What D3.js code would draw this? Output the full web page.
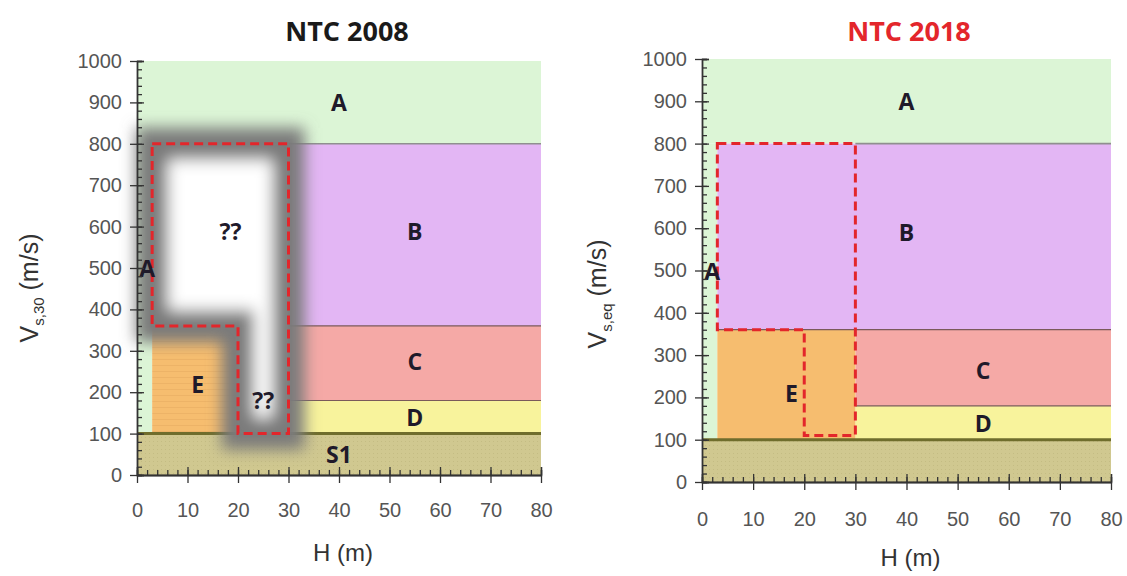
<!DOCTYPE html>
<html>
<head>
<meta charset="utf-8">
<script src="https://cdn.jsdelivr.net/npm/d3@7"></script>
<style>
  html, body { margin: 0; padding: 0; background: #ffffff; }
  svg { display: block; }
</style>
</head>
<body>
<svg id="chart" width="1127" height="576"></svg>
<script>
// ---- data -------------------------------------------------------------
const panelTitles = ["NTC 2008", "NTC 2018"];
const yAxisSubscripts = ["s,30", "s,eq"];
const xTickValues = [0, 10, 20, 30, 40, 50, 60, 70, 80];
const yTickValues = [0, 100, 200, 300, 400, 500, 600, 700, 800, 900, 1000];
const hDomain = [0, 80];      // H (m)
const vDomain = [0, 1000];    // Vs (m/s)

// soil classes as rectangles in data units: [class, H0, H1, V0, V1]
const zones2008 = [
  ["A", 0, 80, 800, 1000],
  ["A", 0, 3, 100, 800],
  ["B", 30, 80, 360, 800],
  ["C", 30, 80, 180, 360],
  ["D", 30, 80, 100, 180],
  ["E", 3, 20, 100, 360],
  ["S1", 0, 80, 0, 100]
];
const zones2018 = [
  ["A", 0, 80, 800, 1000],
  ["A", 0, 3, 100, 800],
  ["B", 3, 80, 360, 800],
  ["C", 30, 80, 180, 360],
  ["D", 30, 80, 100, 180],
  ["E", 3, 30, 100, 360],
  ["S1", 0, 80, 0, 100]
];

// class boundaries: [H0, H1, V]
const bounds2008 = [[30, 80, 800], [30, 80, 360], [30, 80, 180]];
const bounds2018 = [[30, 80, 800], [3, 80, 360], [30, 80, 180]];
const bedrockLine = [0, 80, 100];

// dashed outline of the uncovered / reassigned area
const outline2008 = [[3, 800], [30, 800], [30, 100], [20, 100], [20, 360], [3, 360]];
const outline2018 = [[3, 800], [30, 800], [30, 110], [20, 110], [20, 360], [3, 360]];

// text labels: [text, H, V]
const labels2008 = [["A", 40, 900], ["B", 55, 590], ["C", 55, 275], ["D", 55, 140],
                    ["S1", 40, 50], ["E", 12, 220], ["??", 18.5, 590], ["??", 25, 180], ["A", 2, 500]];
const labels2018 = [["A", 40, 900], ["B", 40, 590], ["C", 55, 265], ["D", 55, 140],
                    ["E", 17.5, 210], ["A", 2, 500]];

const zoneColors = { A: "#dcf5d6", B: "#e3b6f4", C: "#f5a9a6", D: "#f8f39c", E: "#f6bd6f", S1: "#d0c890" };

// ---- layout -----------------------------------------------------------
const panels = [
  { title: panelTitles[0], titleColor: "#1a1a1a", sub: yAxisSubscripts[0],
    x: [137, 541], y: [475, 61], zones: zones2008, bounds: bounds2008,
    outline: outline2008, labels: labels2008, glow: true,
    titleX: 347, titleY: 41, yLabelX: 38, yLabelY: 288, xLabelY: 561, tickPad: 20 },
  { title: panelTitles[1], titleColor: "#e3262b", sub: yAxisSubscripts[1],
    x: [702, 1111], y: [482, 59], zones: zones2018, bounds: bounds2018,
    outline: outline2018, labels: labels2018, glow: false,
    titleX: 909, titleY: 41, yLabelX: 606, yLabelY: 294, xLabelY: 566, tickPad: 22 }
];

const svg = d3.select("#chart");
const defs = svg.append("defs");

defs.append("filter").attr("id", "haze")
  .attr("x", "-30%").attr("y", "-30%").attr("width", "160%").attr("height", "160%")
  .append("feGaussianBlur").attr("stdDeviation", 7.5);

// faint horizontal hatching used in class E and S1
const hatch = defs.append("pattern").attr("id", "hatchE")
  .attr("patternUnits", "userSpaceOnUse").attr("width", 8).attr("height", 6);
hatch.append("rect").attr("width", 8).attr("height", 6).attr("fill", zoneColors.E);
hatch.append("line").attr("x1", 0).attr("x2", 8).attr("y1", 5.5).attr("y2", 5.5)
  .attr("stroke", "#e4a85e").attr("stroke-width", 0.8).attr("stroke-opacity", 0.6);

const dots = defs.append("pattern").attr("id", "dotsS1")
  .attr("patternUnits", "userSpaceOnUse").attr("width", 4).attr("height", 4);
dots.append("rect").attr("width", 4).attr("height", 4).attr("fill", zoneColors.S1);
dots.append("rect").attr("x", 1).attr("y", 1).attr("width", 1).attr("height", 1)
  .attr("fill", "#bdb47a").attr("opacity", 0.6);

panels.forEach((p, i) => {
  const x = d3.scaleLinear().domain(hDomain).range(p.x);
  const y = d3.scaleLinear().domain(vDomain).range(p.y);
  const g = svg.append("g");

  // class areas
  g.selectAll("rect.zone").data(p.zones).join("rect")
    .attr("class", "zone")
    .attr("x", d => x(d[1]))
    .attr("y", d => y(d[4]))
    .attr("width", d => x(d[2]) - x(d[1]))
    .attr("height", d => y(d[3]) - y(d[4]))
    .attr("fill", d => d[0] === "E" && i === 0 ? "url(#hatchE)" : d[0] === "S1" ? "url(#dotsS1)" : zoneColors[d[0]]);

  // boundaries between classes
  g.selectAll("line.bound").data(p.bounds).join("line")
    .attr("class", "bound")
    .attr("x1", d => x(d[0])).attr("x2", d => x(d[1]))
    .attr("y1", d => y(d[2])).attr("y2", d => y(d[2]))
    .attr("stroke", d => d[2] === 800 ? "#8f8f8f" : "#7a5a5a")
    .attr("stroke-width", d => d[2] === 800 ? 1.6 : 1.2);

  g.append("line")
    .attr("x1", x(bedrockLine[0])).attr("x2", x(bedrockLine[1]))
    .attr("y1", y(bedrockLine[2])).attr("y2", y(bedrockLine[2]))
    .attr("stroke", "#6f6d2c").attr("stroke-width", 3);

  const outlinePath = d3.line().x(d => x(d[0])).y(d => y(d[1]));
  const closed = outlinePath(p.outline) + "Z";

  // blurred blank area (no class defined)
  if (p.glow) {
    g.append("path").attr("d", closed)
      .attr("fill", "#ffffff").attr("stroke", "#7a7a7a").attr("stroke-width", 32)
      .attr("stroke-linejoin", "miter")
      .attr("filter", "url(#haze)");
  }

  // dashed outline
  g.append("path").attr("d", closed)
    .attr("fill", "none").attr("stroke", "#e3262b").attr("stroke-width", 3)
    .attr("stroke-dasharray", "9,5").attr("stroke-linejoin", "miter");

  // class labels
  g.selectAll("text.cls").data(p.labels).join("text")
    .attr("class", "cls")
    .attr("x", d => x(d[1])).attr("y", d => y(d[2]))
    .attr("text-anchor", "middle").attr("dominant-baseline", "central")
    .attr("font-family", "'Open Sans', sans-serif").attr("font-weight", 700)
    .attr("font-size", 23).attr("fill", "#1f1a2a")
    .text(d => d[0]);

  // axes
  const axisStyle = sel => {
    sel.select(".domain").attr("stroke", "#333").attr("stroke-width", 1.3);
    sel.selectAll(".tick line").attr("stroke", "#333").attr("stroke-width", 1.3);
    sel.selectAll(".tick text").attr("fill", "#555")
      .attr("font-family", "'Liberation Sans', Arial, sans-serif").attr("font-size", 20);
  };

  const minorY = d3.range(0, 1001, 20);
  const minorX = d3.range(0, 81, 2);
  const fmt = d3.format("d");

  g.append("g").attr("transform", `translate(${p.x[0]},0)`)
    .call(d3.axisRight(y).tickValues(minorY).tickSize(5).tickFormat(""))
    .call(axisStyle);
  g.append("g").attr("transform", `translate(${p.x[0]},0)`)
    .call(d3.axisRight(y).tickValues(yTickValues).tickSize(7).tickFormat(""))
    .call(axisStyle);
  g.append("g").attr("transform", `translate(${p.x[0]},0)`)
    .call(d3.axisLeft(y).tickValues(yTickValues).tickFormat(fmt).tickSizeInner(7).tickSizeOuter(0).tickPadding(8))
    .call(axisStyle);

  g.append("g").attr("transform", `translate(0,${p.y[0]})`)
    .call(d3.axisTop(x).tickValues(minorX).tickSize(5).tickFormat(""))
    .call(axisStyle);
  g.append("g").attr("transform", `translate(0,${p.y[0]})`)
    .call(d3.axisTop(x).tickValues(xTickValues).tickSize(8).tickFormat(""))
    .call(axisStyle);
  g.append("g").attr("transform", `translate(0,${p.y[0]})`)
    .call(d3.axisBottom(x).tickValues(xTickValues).tickFormat(fmt).tickSizeInner(8).tickSizeOuter(0).tickPadding(p.tickPad))
    .call(axisStyle);

  // title
  svg.append("text")
    .attr("x", p.titleX).attr("y", p.titleY)
    .attr("text-anchor", "middle")
    .attr("font-family", "'Open Sans', sans-serif").attr("font-weight", 700)
    .attr("font-size", 27).attr("fill", p.titleColor)
    .text(p.title);

  // axis titles
  const yl = svg.append("text")
    .attr("transform", `translate(${p.yLabelX},${p.yLabelY}) rotate(-90)`)
    .attr("text-anchor", "middle")
    .attr("font-family", "'Liberation Sans', Arial, sans-serif")
    .attr("fill", "#333");
  yl.append("tspan").attr("font-size", 25).text("V");
  yl.append("tspan").attr("font-size", 15).attr("dy", 6).text(p.sub);
  yl.append("tspan").attr("font-size", 25).attr("dy", -6).text(" (m/s)");

  svg.append("text")
    .attr("x", (p.x[0] + p.x[1]) / 2 + 4).attr("y", p.xLabelY)
    .attr("text-anchor", "middle")
    .attr("font-family", "'Liberation Sans', Arial, sans-serif")
    .attr("font-size", 24).attr("fill", "#333")
    .text("H (m)");
});
</script>
</body>
</html>
